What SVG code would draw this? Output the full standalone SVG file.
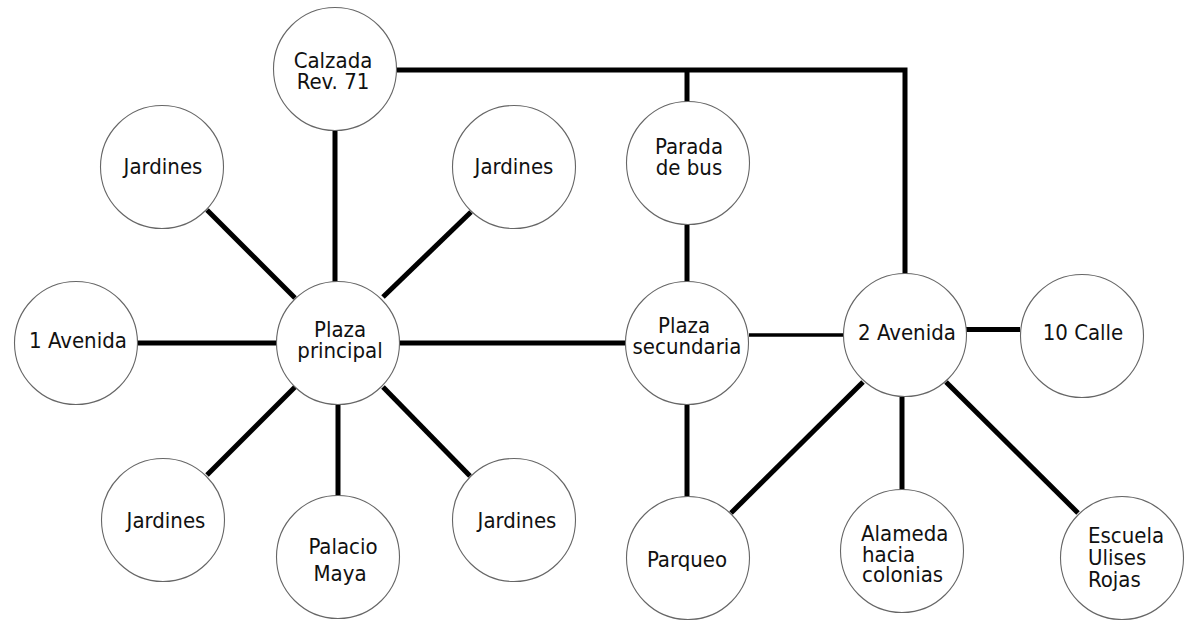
<svg xmlns="http://www.w3.org/2000/svg" width="1189" height="620" viewBox="0 0 1189 620">
<style>
.n{fill:#fff;stroke:#666;stroke-width:1.1}
.t{font-family:"DejaVu Sans Condensed","DejaVu Sans",sans-serif;font-stretch:condensed;font-size:22px;fill:#111;text-anchor:middle}
.l{text-anchor:start}
.c{stroke:#000;stroke-width:5;fill:none}
.c2{stroke:#000;stroke-width:3.5;fill:none}
</style>
<rect width="1189" height="620" fill="#fff"/>
<g id="connectors">
<path class="c" d="M397 70H905V274"/>
<path class="c" d="M687 70V102"/>
<path class="c" d="M687 224V282"/>
<path class="c" d="M335 130V282"/>
<path class="c" d="M207 210L295 298"/>
<path class="c" d="M471 212L383 297"/>
<path class="c" d="M138 343H276"/>
<path class="c" d="M400 343H625"/>
<path class="c" d="M338 404V496"/>
<path class="c" d="M295 387L207 475"/>
<path class="c" d="M383 387L470 476"/>
<path class="c2" d="M749 335H844"/>
<path class="c" d="M966 329.5H1020"/>
<path class="c" d="M687 404V497"/>
<path class="c" d="M863 382L731 513"/>
<path class="c" d="M902 397V490"/>
<path class="c" d="M946 382L1078 513"/>
</g>
<g id="calzada"><circle class="n" cx="335" cy="69" r="61.5"/><text class="t" x="333" y="68">Calzada<tspan x="333" dy="21">Rev. 71</tspan></text></g>
<g id="jardines-tl"><circle class="n" cx="162" cy="167" r="61.5"/><text class="t" x="163" y="174">Jardines</text></g>
<g id="jardines-tr"><circle class="n" cx="514" cy="167" r="61.5"/><text class="t" x="514" y="174">Jardines</text></g>
<g id="avenida1"><circle class="n" cx="76" cy="343" r="61.5"/><text class="t" x="78" y="348">1 Avenida</text></g>
<g id="plaza-principal"><circle class="n" cx="338" cy="343" r="61.5"/><text class="t" x="340" y="337">Plaza<tspan x="340" dy="21">principal</tspan></text></g>
<g id="jardines-bl"><circle class="n" cx="163" cy="520" r="61.5"/><text class="t" x="166" y="528">Jardines</text></g>
<g id="palacio"><circle class="n" cx="338" cy="557" r="61.5"/><text class="t" x="343" y="554">Palacio<tspan x="340" dy="27">Maya</tspan></text></g>
<g id="jardines-br"><circle class="n" cx="514" cy="520" r="61.5"/><text class="t" x="517" y="528">Jardines</text></g>
<g id="parada"><circle class="n" cx="688" cy="163" r="61.5"/><text class="t" x="689" y="154">Parada<tspan x="689" dy="21">de bus</tspan></text></g>
<g id="plaza-secundaria"><circle class="n" cx="687" cy="343" r="61.5"/><text class="t" x="684" y="333">Plaza<tspan x="687" dy="21">secundaria</tspan></text></g>
<g id="avenida2"><circle class="n" cx="905" cy="335" r="61.5"/><text class="t" x="907" y="340">2 Avenida</text></g>
<g id="calle10"><circle class="n" cx="1082" cy="336" r="61.5"/><text class="t" x="1083" y="340">10 Calle</text></g>
<g id="parqueo"><circle class="n" cx="688" cy="558" r="61.5"/><text class="t" x="687" y="567">Parqueo</text></g>
<g id="alameda"><circle class="n" cx="902" cy="551" r="61.5"/><text class="t l" x="861" y="541">Alameda<tspan x="862" dy="21">hacia</tspan><tspan x="862" dy="20">colonias</tspan></text></g>
<g id="escuela"><circle class="n" cx="1122" cy="558" r="61.5"/><text class="t l" x="1088" y="543">Escuela<tspan x="1088" dy="22">Ulises</tspan><tspan x="1088" dy="22">Rojas</tspan></text></g>
</svg>
